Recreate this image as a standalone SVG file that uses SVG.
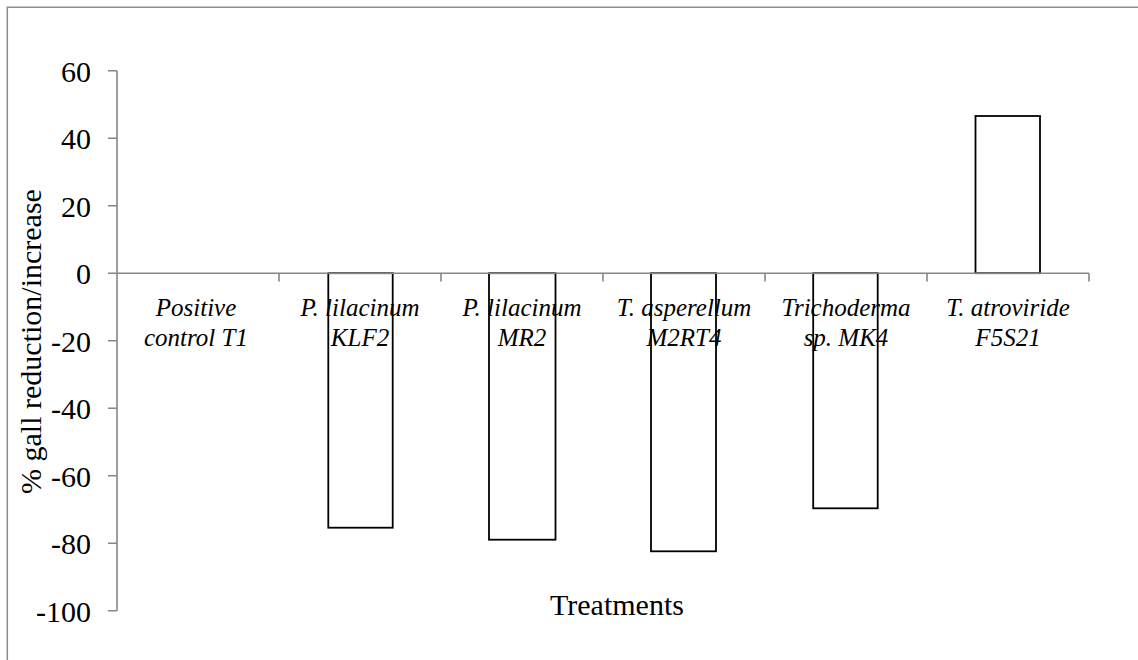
<svg xmlns="http://www.w3.org/2000/svg" width="1138" height="660" viewBox="0 0 1138 660">
<style>
.frame{stroke:#8c8c8c;stroke-width:1.5;fill:none}
.axis{stroke:#868686;stroke-width:1.6;fill:none}
.bar{fill:#fff;stroke:#000;stroke-width:1.8}
</style>
<rect width="1138" height="660" fill="#fff"/>
<g id="frame">
<path class="frame" d="M7.3,660 V7.3 H1138"/>
</g>
<g id="bars">
<rect class="bar" x="328.3" y="273.2" width="64.4" height="254.5"/>
<rect class="bar" x="489" y="273.2" width="66.5" height="266.5"/>
<rect class="bar" x="651" y="273.2" width="65" height="278.1"/>
<rect class="bar" x="813.2" y="273.2" width="64.5" height="235.1"/>
<rect class="bar" x="975.5" y="116" width="64.5" height="157.2"/>
</g>
<g id="axes">
<path class="axis" d="M117,70.7 V610.7 M108,70.7 H117 M108,138.2 H117 M108,205.7 H117 M108,273.2 H117 M108,340.7 H117 M108,408.2 H117 M108,475.7 H117 M108,543.2 H117 M108,610.7 H117"/>
<path class="axis" d="M117,273.2 H1089 M279,273.2 V281.5 M441,273.2 V281.5 M603,273.2 V281.5 M765,273.2 V281.5 M927,273.2 V281.5 M1089,273.2 V281.5"/>
</g>
<g id="ytick-labels" font-family="Liberation Serif, DejaVu Serif, serif" font-size="30" text-anchor="end" fill="#000">
<text x="91" y="81.5">60</text>
<text x="91" y="149">40</text>
<text x="91" y="216.5">20</text>
<text x="91" y="284">0</text>
<text x="91" y="351.5">-20</text>
<text x="91" y="419">-40</text>
<text x="91" y="486.5">-60</text>
<text x="91" y="554">-80</text>
<text x="91" y="621.5">-100</text>
</g>
<g id="category-labels" font-family="Liberation Serif, DejaVu Serif, serif" font-size="25" font-style="italic" text-anchor="middle" fill="#000">
<text x="196" y="316">Positive</text>
<text x="196" y="345.5">control T1</text>
<text x="360" y="316">P. lilacinum</text>
<text x="360" y="345.5">KLF2</text>
<text x="522" y="316">P. lilacinum</text>
<text x="522" y="345.5">MR2</text>
<text x="684" y="316">T. asperellum</text>
<text x="684" y="345.5">M2RT4</text>
<text x="846" y="316">Trichoderma</text>
<text x="846" y="345.5">sp. MK4</text>
<text x="1008" y="316">T. atroviride</text>
<text x="1008" y="345.5">F5S21</text>
</g>
<g id="axis-titles" font-family="Liberation Serif, DejaVu Serif, serif" font-size="30" text-anchor="middle" fill="#000">
<text x="617" y="615">Treatments</text>
<text transform="translate(41,341.5) rotate(-90)">% gall reduction/increase</text>
</g>
</svg>
